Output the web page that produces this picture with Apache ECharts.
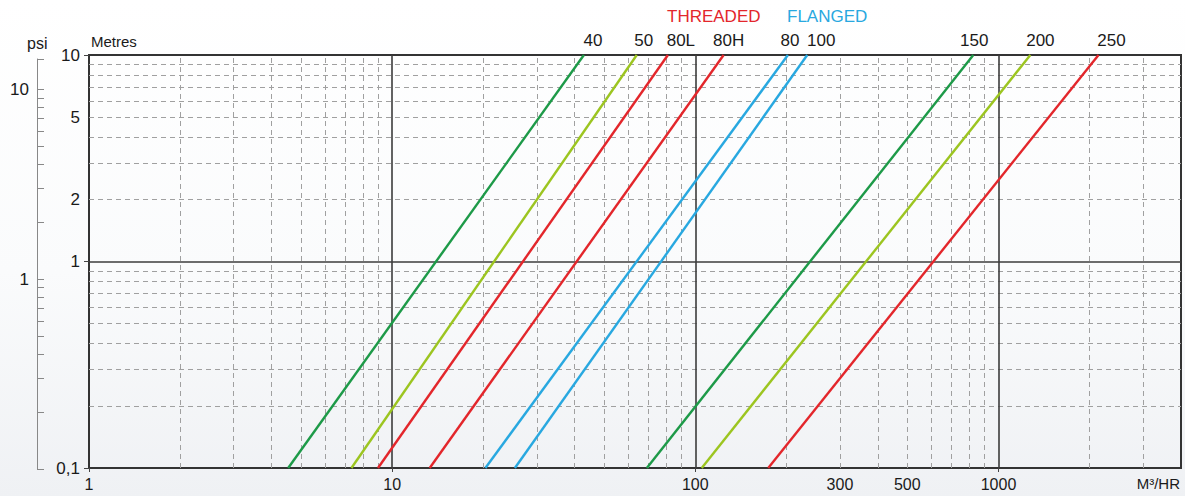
<!DOCTYPE html>
<html>
<head>
<meta charset="utf-8">
<script src="https://cdn.jsdelivr.net/npm/echarts@6/dist/echarts.min.js"></script>
<style>
html,body{margin:0;padding:0;}
body{background:linear-gradient(to bottom,#ffffff 0%,#fafbfc 55%,#eff1f4 100%);}
#c{width:1185px;height:496px;}
</style>
</head>
<body>
<div id="c"></div>
<script>
// ---- data ----
const sizes      = ['40', '50', '80L', '80H', '80', '100', '150', '200', '250'];
const flowAtLow  = [4.54, 7.34, 8.98, 13.3, 20.3, 25.4, 69.2, 105, 174];   // m3/hr at 0,1 m
const flowAtHigh = [42.9, 64.1, 81.2, 124, 202, 234, 826, 1274, 2138];     // m3/hr at 10 m
const headLow = 0.1, headHigh = 10;

const xLabelValues = [1, 10, 100, 300, 500, 1000];
const xTickValues  = [1, 10, 100, 1000];
const yLabelValues = [0.1, 1, 2, 5, 10];
const yTickValues  = [0.1, 1, 10];
const xMajorGrid = [10, 100, 1000];
const xMinorGrid = [2, 3, 4, 5, 6, 7, 8, 9, 20, 30, 40, 50, 60, 70, 80, 90,
                    200, 300, 400, 500, 600, 700, 800, 900, 2000, 3000];
const yMajorGrid = [1];
const yMinorGrid = [0.2, 0.3, 0.4, 0.5, 0.6, 0.7, 0.8, 0.9, 2, 3, 4, 5, 6, 7, 8, 9];
const psiTickValues  = [0.1, 0.2, 0.3, 0.4, 0.5, 0.6, 0.7, 0.8, 0.9, 1, 2, 3, 4, 5, 6, 7, 8, 9, 10, 14.4];
const psiLabelValues = [1, 10];

// ---- styles ----
const seriesColors = ['#1d9a48', '#9cc520', '#e3262b', '#e3262b', '#28a8e0', '#28a8e0', '#1d9a48', '#9cc520', '#e3262b'];
const labelDx      = [9, 7, 13, 5, 2, 14, 1, 10, 13];

const chart = echarts.init(document.getElementById('c'), null, {renderer: 'svg'});
const FONT = 'Liberation Sans, Arial, Helvetica, sans-serif';
const TXT = '#1a1a1a';

const dashedStyle = {color: '#a0a0a0', width: 1, type: [5, 4]};
const solidStyle  = {color: '#3c3c3c', width: 1.6, type: 'solid'};

const lineSeries = sizes.map((name, i) => ({
  name: name,
  type: 'line',
  xAxisIndex: 0, yAxisIndex: 0,
  z: 5,
  showSymbol: true,
  symbol: 'circle',
  symbolSize: 0,
  silent: true,
  lineStyle: {color: seriesColors[i], width: 2.4},
  itemStyle: {color: seriesColors[i]},
  data: [
    {value: [flowAtLow[i], headLow]},
    {value: [flowAtHigh[i], headHigh],
     label: {show: true, position: 'top', distance: 6, offset: [labelDx[i], 0],
             formatter: name, fontSize: 17, color: TXT, fontFamily: FONT}}
  ]
}));

const option = {
  animation: false,
  backgroundColor: 'transparent',
  textStyle: {fontFamily: FONT},
  grid: [
    {left: 89, right: 4, top: 55, bottom: 28, show: true, borderColor: '#333', borderWidth: 2, backgroundColor: 'transparent'},
    {left: 37, width: 10, top: 59, bottom: 27, show: false}
  ],
  xAxis: [
    {type: 'log', gridIndex: 0, logBase: 10, min: 1, max: 4000,
     axisLine: {show: false},
     splitLine: {show: false},
     axisTick: {show: true, length: 4, customValues: xTickValues, lineStyle: {color: '#444'}},
     axisLabel: {show: true, customValues: xLabelValues, fontSize: 16, color: TXT, margin: 8,
                 formatter: v => String(Math.round(v))}},
    {type: 'value', gridIndex: 1, show: false, min: 0, max: 1}
  ],
  yAxis: [
    {type: 'log', gridIndex: 0, logBase: 10, min: 0.1, max: 10,
     axisLine: {show: false},
     splitLine: {show: false},
     axisTick: {show: true, length: 5, customValues: yTickValues, lineStyle: {color: '#444'}},
     axisLabel: {show: true, customValues: yLabelValues, fontSize: 17, color: TXT, margin: 9,
                 formatter: v => (v < 0.5 ? '0,1' : String(Math.round(v)))}},
    {type: 'log', gridIndex: 1, logBase: 10, min: 0.1, max: 14.4, position: 'left',
     axisLine: {show: true, lineStyle: {color: '#888', width: 1}},
     splitLine: {show: false},
     axisTick: {show: true, inside: true, length: 7, customValues: psiTickValues, lineStyle: {color: '#888'}},
     axisLabel: {show: true, customValues: psiLabelValues, fontSize: 17, color: TXT, margin: 8,
                 formatter: v => String(Math.round(v))}}
  ],
  graphic: [
    {type: 'text', left: 27, top: 35, style: {text: 'psi', font: '16px ' + FONT, fill: TXT}},
    {type: 'text', left: 91, top: 34, style: {text: 'Metres', font: '15px ' + FONT, fill: TXT}},
    {type: 'text', left: 667, top: 8, style: {text: 'THREADED', font: '17px ' + FONT, fill: '#e3262b'}},
    {type: 'text', left: 787, top: 8, style: {text: 'FLANGED', font: '17px ' + FONT, fill: '#28a8e0'}},
    {type: 'text', right: 5, top: 476, style: {text: 'M³/HR', font: '15px ' + FONT, fill: TXT}}
  ],
  series: [
    {type: 'line', xAxisIndex: 0, yAxisIndex: 0, data: [], z: 1, silent: true,
     markLine: {silent: true, symbol: 'none', animation: false, label: {show: false},
                lineStyle: dashedStyle,
                data: xMinorGrid.map(v => ({xAxis: v})).concat(yMinorGrid.map(v => ({yAxis: v})))}},
    {type: 'line', xAxisIndex: 0, yAxisIndex: 0, data: [], z: 2, silent: true,
     markLine: {silent: true, symbol: 'none', animation: false, label: {show: false},
                lineStyle: solidStyle,
                data: xMajorGrid.map(v => ({xAxis: v})).concat(yMajorGrid.map(v => ({yAxis: v})))}}
  ].concat(lineSeries)
};
chart.setOption(option);
</script>
</body>
</html>
